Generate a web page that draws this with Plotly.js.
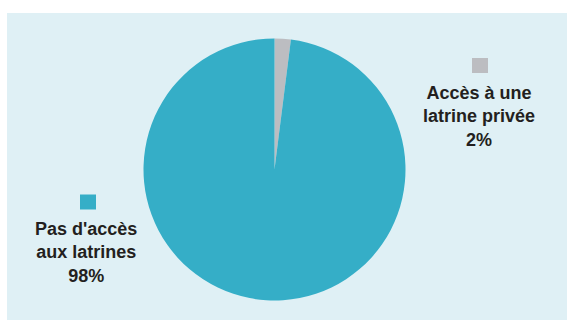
<!DOCTYPE html>
<html>
<head>
<meta charset="utf-8">
<script src="https://cdn.plot.ly/plotly-3.0.1.min.js"></script>
<style>html,body{margin:0;padding:0;background:#fff;}#chart{width:567px;height:320px;}</style>
</head>
<body>
<div id="chart"></div>
<script>
const labels = ["Accès à une<br>latrine privée", "Pas d'accès<br>aux latrines"];
const values = [2, 98];
const colors = ["#bcbdc1", "#35aec7"];

const W = 567, H = 320;
const px = x => x / W;
const py = y => 1 - y / H;

const trace = {
  type: 'pie',
  labels: labels,
  values: values,
  sort: false,
  direction: 'clockwise',
  rotation: 0,
  textinfo: 'none',
  hoverinfo: 'label+percent',
  marker: {colors: colors, line: {width: 0}},
  domain: {x: [px(274.5 - 131), px(274.5 + 131)], y: [py(169.5 + 131), py(169.5 - 131)]},
  showlegend: false
};

const total = values.reduce((a, b) => a + b, 0);
const labelPos = [{x: 479, y: 116, sx: 480, sy: 65.5}, {x: 86, y: 252, sx: 88, sy: 202}];

const annotations = labels.map((l, i) => ({
  xref: 'paper', yref: 'paper',
  x: px(labelPos[i].x), y: py(labelPos[i].y),
  xanchor: 'center', yanchor: 'middle',
  text: l + '<br>' + Math.round(values[i] / total * 100) + '%',
  showarrow: false, align: 'center',
  font: {family: 'Liberation Sans, Arial, sans-serif', size: 18, color: '#231f20', weight: 'bold'}
}));

const shapes = [{
  type: 'rect', xref: 'paper', yref: 'paper', layer: 'below',
  x0: px(7), x1: 1, y0: 0, y1: py(13),
  fillcolor: '#dff0f5', line: {width: 0}
}].concat(labels.map((l, i) => ({
  type: 'rect', xref: 'paper', yref: 'paper',
  x0: px(labelPos[i].sx - 8), x1: px(labelPos[i].sx + 8),
  y0: py(labelPos[i].sy + 7.5), y1: py(labelPos[i].sy - 7.5),
  fillcolor: colors[i], line: {width: 0}
})));

Plotly.newPlot('chart', [trace], {
  width: W, height: H,
  margin: {l: 0, r: 0, t: 0, b: 0},
  paper_bgcolor: '#ffffff',
  plot_bgcolor: 'rgba(0,0,0,0)',
  annotations: annotations,
  shapes: shapes
}, {displayModeBar: false, staticPlot: true});
</script>
</body>
</html>
